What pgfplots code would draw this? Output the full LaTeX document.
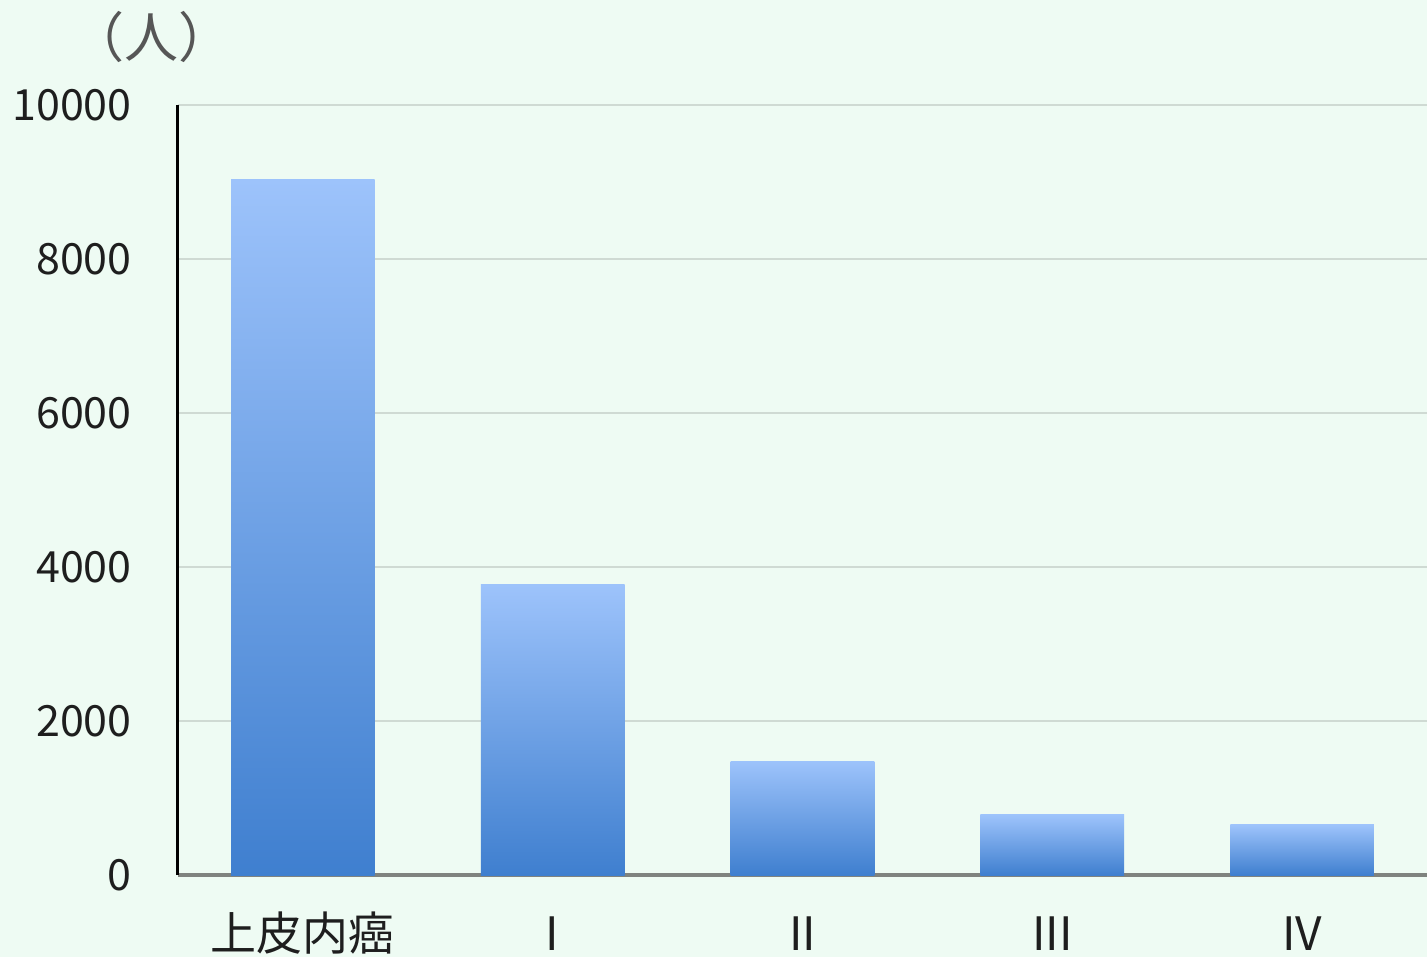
\documentclass[border=0pt]{standalone}
\usepackage{pgfplots}
\pgfplotsset{compat=1.18}
\usepackage{fontspec}
\setmainfont{Noto Sans CJK JP}
\definecolor{bg}{HTML}{EEFBF3}
\definecolor{bartop}{HTML}{9DC3FB}
\definecolor{barmid}{HTML}{5A90DD}
\definecolor{barbot}{HTML}{3F7FCF}
\definecolor{gridc}{HTML}{CFDAD3}
\definecolor{xaxc}{HTML}{7F837F}
\definecolor{txt}{HTML}{1E1E1E}
\begin{document}
\begin{tikzpicture}[x=1pt,y=1pt]
\fill[bg] (-89,-41) rectangle (624.5,437.5);
\begin{axis}[
  scale only axis, width=624.5pt, height=385pt,
  at={(0,0)}, anchor=south west,
  xmin=-0.5, xmax=4.5, ymin=0, ymax=10000,
  axis lines*=left,
  x axis line style={draw=xaxc, line width=2pt},
  y axis line style={draw=black, line width=1.5pt},
  ytick={0,2000,4000,6000,8000,10000},
  scaled y ticks=false,
  xtick={0,1,2,3,4},
  xticklabels={上皮内癌,I,II,III,IV},
  ymajorgrids, grid style={draw=gridc, line width=0.7pt},
  major tick length=0pt, tick style={draw=none},
  /pgf/number format/assume math mode=true,
  /pgf/number format/1000 sep={},
  yticklabel style={font=\fontsize{21.5}{21.5}\selectfont, text=txt, anchor=east, inner sep=0pt, xshift=-23pt},
  xticklabel style={font=\fontsize{23}{23}\selectfont, text=txt, anchor=base, inner sep=0pt, yshift=-37.5pt},
  ybar, bar width=0.575, bar shift=0pt,
  every axis plot/.append style={draw=none, top color=bartop, middle color=barmid, bottom color=barbot},
]
\addplot coordinates {(0,9030)};
\addplot coordinates {(1,3770)};
\addplot coordinates {(2,1480)};
\addplot coordinates {(3,780)};
\addplot coordinates {(4,650)};
\end{axis}
\node[font=\fontsize{27}{27}\selectfont\addfontfeature{FakeBold=0}, text=txt!75!white] at (-13,419) {（人）};
\pgfresetboundingbox
\path[use as bounding box] (-89,-41) rectangle (624.5,437.5);
\end{tikzpicture}
\end{document}
